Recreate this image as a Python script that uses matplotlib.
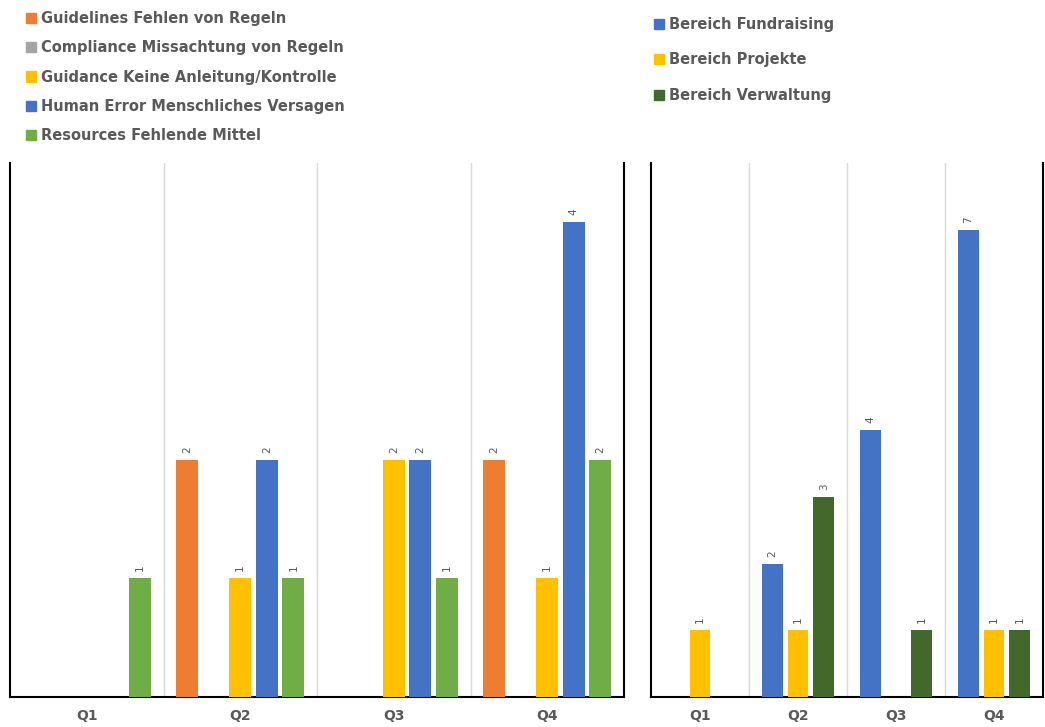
import matplotlib.pyplot as plt
from matplotlib.patches import Patch
import numpy as np

plt.rcParams['font.family'] = ['DejaVu Sans']

quarters = ['Q1', 'Q2', 'Q3', 'Q4']

# left chart: causes
cause_names = ['Guidelines Fehlen von Regeln',
               'Compliance Missachtung von Regeln',
               'Guidance Keine Anleitung/Kontrolle',
               'Human Error Menschliches Versagen',
               'Resources Fehlende Mittel']
guidelines = [0, 2, 0, 2]
compliance = [0, 0, 0, 0]
guidance = [0, 1, 2, 1]
human_error = [0, 2, 2, 4]
resources = [1, 1, 1, 2]
cause_colors = ['#ED7D31', '#A5A5A5', '#FFC000', '#4472C4', '#70AD47']

# right chart: departments
dept_names = ['Bereich Fundraising', 'Bereich Projekte', 'Bereich Verwaltung']
fundraising = [0, 2, 4, 7]
projekte = [1, 1, 0, 1]
verwaltung = [0, 3, 1, 1]
dept_colors = ['#4472C4', '#FFC000', '#43682B']

txt = '#595959'

fig = plt.figure(figsize=(10.45, 7.27), dpi=100)
W, H = 1045, 727
ax1 = fig.add_axes([10 / W, 30 / H, 614 / W, 534 / H])
ax2 = fig.add_axes([651 / W, 30 / H, 392 / W, 534 / H])


def draw(ax, series, colors, step, width, ymax):
    x = np.arange(len(quarters))
    n = len(series)
    for i, (vals, c) in enumerate(zip(series, colors)):
        pos = x + (i - (n - 1) / 2) * step
        ax.bar(pos, vals, width, color=c, zorder=3)
        for p, v in zip(pos, vals):
            if v > 0:
                ax.annotate(str(v), (p, v), xytext=(0, 5), textcoords='offset points',
                            rotation=90, ha='center', va='bottom', fontsize=7.5,
                            color=txt)
    ax.set_xlim(-0.5, len(quarters) - 0.5)
    ax.set_ylim(0, ymax)
    for b in [0.5, 1.5, 2.5]:
        ax.axvline(b, color='#D9D9D9', lw=1, zorder=1)
    ax.set_yticks([])
    ax.set_xticks(x)
    ax.set_xticklabels(quarters, fontsize=10, fontweight='bold', color=txt)
    ax.tick_params(axis='x', length=0, pad=9)
    ax.spines['top'].set_visible(False)
    for s in ['left', 'right', 'bottom']:
        ax.spines[s].set_color('black')
        ax.spines[s].set_linewidth(1.5)


draw(ax1, [guidelines, compliance, guidance, human_error, resources], cause_colors,
     0.173, 0.143, 4.5)
draw(ax2, [fundraising, projekte, verwaltung], dept_colors, 0.265, 0.214, 8)

h1 = [Patch(color=c) for c in cause_colors]
leg1 = fig.legend(h1, cause_names, loc='upper left', bbox_to_anchor=(26 / W, 1 - 11 / H),
                  frameon=False, handlelength=0.7, handleheight=0.7, handletextpad=0.3,
                  labelspacing=0.98, borderpad=0, borderaxespad=0,
                  prop={'size': 10.5, 'weight': 'bold'})
for t in leg1.get_texts():
    t.set_color(txt)

h2 = [Patch(color=c) for c in dept_colors]
leg2 = fig.legend(h2, dept_names, loc='upper left', bbox_to_anchor=(654 / W, 1 - 17 / H),
                  frameon=False, handlelength=0.7, handleheight=0.7, handletextpad=0.3,
                  labelspacing=1.4, borderpad=0, borderaxespad=0,
                  prop={'size': 10.5, 'weight': 'bold'})
for t in leg2.get_texts():
    t.set_color(txt)

fig.savefig('out.png', dpi=100)
